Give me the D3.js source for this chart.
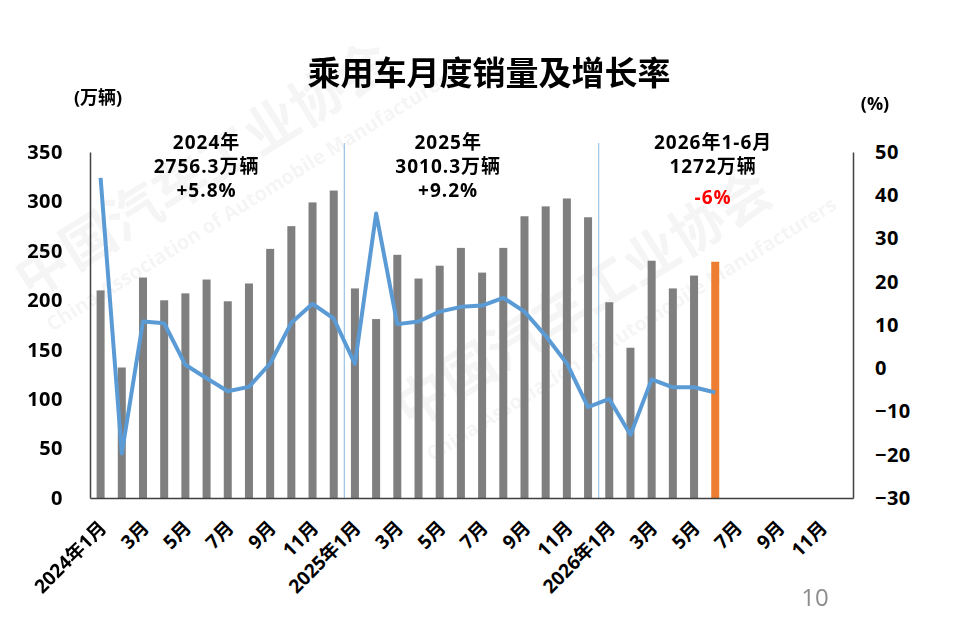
<!DOCTYPE html>
<html>
<head>
<meta charset="utf-8">
<script src="https://cdn.jsdelivr.net/npm/d3@7"></script>
<style>
    body { margin: 0; background: #fff; }
    text { font-family: "Open Sans", "Noto Sans CJK SC", sans-serif; }
</style>
</head>
<body>
<script>
// Monthly passenger car sales (10k units) and YoY growth (%)
// 36 month slots on the x axis, data for the first 30
var months = [];
[2024, 2025, 2026].forEach(function(y) {
    for (var m = 1; m <= 12; m++) { months.push(y + "-" + m); }
});

var sales = [210, 132, 223, 200, 207, 221, 199, 217, 252, 275, 299, 311,
             212, 181, 246, 222, 235, 253, 228, 253, 285, 295, 303, 284,
             198, 152, 240, 212, 225, 239];

var growth = [44, -19.7, 10.8, 10.4, 0.8, -2.3, -5.3, -4.3, 1.1, 10.5, 14.9, 11.5,
              1, 35.8, 10.2, 10.8, 13.1, 14.2, 14.5, 16.3, 13.1, 7.5, 1.1, -9,
              -7.1, -15.4, -2.6, -4.4, -4.4, -5.6];

var leftTicks = [0, 50, 100, 150, 200, 250, 300, 350];
var rightTicks = [-30, -20, -10, 0, 10, 20, 30, 40, 50];

// year summary texts
var noteYear = ["2024年", "2025年", "2026年1-6月"];
var noteTotal = ["2756.3万辆", "3010.3万辆", "1272万辆"];
var noteGrowth = ["+5.8%", "+9.2%", "-6%"];

function tickLabel(key) {
    var p = key.split("-");
    if (+p[1] % 2 === 0) return "";
    return p[1] === "1" ? p[0] + "年1月" : p[1] + "月";
}

var margin = {top: 152, right: 107, bottom: 120, left: 90},
    W = 960, H = 618,
    width = W - margin.left - margin.right,
    height = H - margin.top - margin.bottom;

var svg = d3.select("body").append("svg")
    .attr("width", W)
    .attr("height", H);

// faint watermark
var wm = svg.append("g").attr("fill", "#000").attr("opacity", 0.04)
    .style("font-weight", "bold");
[[30, 300], [410, 430]].forEach(function(p) {
    wm.append("text")
        .attr("transform", "translate(" + p[0] + "," + p[1] + ") rotate(-32)")
        .style("font-size", "54px")
        .text("中国汽车工业协会");
    wm.append("text")
        .attr("transform", "translate(" + (p[0] + 22) + "," + (p[1] + 32) + ") rotate(-32)")
        .style("font-size", "20px")
        .text("China Association of Automobile Manufacturers");
});

var g = svg.append("g")
    .attr("transform", "translate(" + margin.left + "," + margin.top + ")");

var x = d3.scaleBand().domain(months).range([0, width]);
var yL = d3.scaleLinear().domain([0, 350]).range([height, 0]);
var yR = d3.scaleLinear().domain([-30, 50]).range([height, 0]);

// year separators
[12, 24].forEach(function(i) {
    g.append("line")
        .attr("x1", x(months[i])).attr("x2", x(months[i]))
        .attr("y1", -9).attr("y2", height)
        .attr("stroke", "#9dc3e6").attr("stroke-width", 1.2);
});

// bars
var bw = 8;
g.selectAll("rect.bar")
    .data(sales)
    .enter()
    .append("rect")
    .attr("class", "bar")
    .attr("x", function(d, i) { return x(months[i]) + x.bandwidth() / 2 - bw / 2; })
    .attr("y", function(d) { return yL(d); })
    .attr("width", bw)
    .attr("height", function(d) { return height - yL(d); })
    .attr("fill", function(d, i) { return i === sales.length - 1 ? "#ed7d31" : "#7f7f7f"; });

// growth line
var line = d3.line()
    .x(function(d, i) { return x(months[i]) + x.bandwidth() / 2; })
    .y(function(d) { return yR(d); });

g.append("path")
    .datum(growth)
    .attr("d", line)
    .attr("fill", "none")
    .attr("stroke", "#5b9bd5")
    .attr("stroke-width", 4)
    .attr("stroke-linejoin", "round");

// axes
var axisColor = "#404040";
var leftAxis = g.append("g")
    .call(d3.axisLeft(yL).tickValues(leftTicks).tickSize(0).tickPadding(27));
var rightAxis = g.append("g")
    .attr("transform", "translate(" + width + ",0)")
    .call(d3.axisRight(yR).tickValues(rightTicks).tickSize(0).tickPadding(22));
var bottomAxis = g.append("g")
    .attr("transform", "translate(0," + height + ")")
    .call(d3.axisBottom(x).tickFormat(tickLabel).tickSize(0));

[leftAxis, rightAxis, bottomAxis].forEach(function(a) {
    a.select(".domain").attr("stroke", axisColor).attr("stroke-width", 1.5);
    a.selectAll("text")
        .attr("fill", "#000")
        .style("font-size", "20px")
        .style("font-weight", "bold")
        .style("letter-spacing", "0.5px");
});

bottomAxis.selectAll("text")
    .style("font-size", "19px")
    .style("letter-spacing", "0px")
    .style("text-anchor", "end")
    .attr("dx", "0")
    .attr("dy", "0")
    .attr("transform", "translate(5,29) rotate(-45)");

// year notes, centred over a chosen month slot
var noteAt = [5.5, 16.9, 29.4];
noteYear.forEach(function(t, k) {
    var cx = x.step() * noteAt[k];
    var rows = [noteYear[k], noteTotal[k], noteGrowth[k]];
    rows.forEach(function(s, r) {
        var neg = r === 2 && s.charAt(0) === "-";
        g.append("text")
            .attr("x", cx)
            .attr("y", -3 + r * 24 + (neg ? 7 : 0))
            .attr("text-anchor", "middle")
            .attr("fill", neg ? "#ff0000" : "#000")
            .style("font-size", "19px")
            .style("font-weight", "bold")
            .style("letter-spacing", "1px")
            .text(s);
    });
});

// titles
svg.append("text")
    .attr("x", 489).attr("y", 85)
    .attr("text-anchor", "middle")
    .style("font-size", "33px")
    .style("font-weight", "bold")
    .text("乘用车月度销量及增长率");

svg.append("text")
    .attr("x", 98).attr("y", 104)
    .attr("text-anchor", "middle")
    .style("font-size", "18px")
    .style("font-weight", "bold")
    .text("(万辆)");

svg.append("text")
    .attr("x", 875).attr("y", 110)
    .attr("text-anchor", "middle")
    .style("font-size", "18px")
    .style("font-weight", "bold")
    .text("(%)");

svg.append("text")
    .attr("x", 815).attr("y", 606)
    .attr("text-anchor", "middle")
    .attr("fill", "#8c8c8c")
    .style("font-size", "24px")
    .text("10");
</script>
</body>
</html>
